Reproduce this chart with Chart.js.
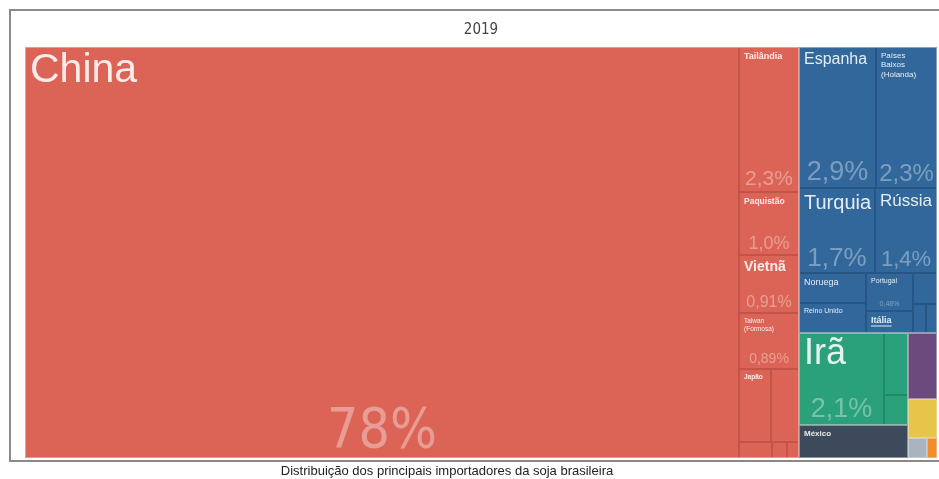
<!DOCTYPE html>
<html>
<head>
<meta charset="utf-8">
<script src="https://cdn.jsdelivr.net/npm/chart.js@4.4.1/dist/chart.umd.min.js"></script>
<style>
  html, body { margin: 0; padding: 0; background: #fff; }
  #box { width: 939px; height: 479px; position: relative; }
</style>
</head>
<body>
<div id="box"><canvas id="Chart"></canvas></div>
<script>
// participação (%) de cada país nas importações de soja brasileira, 2019
const paises = [
    'China', 'Tailândia', 'Paquistão', 'Vietnã', 'Taiwan (Formosa)', 'Japão', 'Coreia do Sul',
    'Bangladesh', 'Malásia', 'Indonésia',
    'Espanha', 'Países Baixos (Holanda)', 'Turquia', 'Rússia', 'Noruega', 'Reino Unido',
    'Portugal', 'Itália', 'Alemanha', 'França', 'Bélgica',
    'Irã', 'Arábia Saudita', 'Emirados Árabes Unidos',
    'México', 'Egito', 'Argentina', 'Austrália', 'Costa Rica'
];
const regioes = [
    'Ásia', 'Ásia', 'Ásia', 'Ásia', 'Ásia', 'Ásia', 'Ásia', 'Ásia', 'Ásia', 'Ásia',
    'Europa', 'Europa', 'Europa', 'Europa', 'Europa', 'Europa', 'Europa', 'Europa', 'Europa', 'Europa', 'Europa',
    'Oriente Médio', 'Oriente Médio', 'Oriente Médio',
    'América do Norte', 'África', 'América do Sul', 'Oceania', 'América Central'
];
const participacao = [
    78, 2.3, 1.0, 0.91, 0.89, 0.62, 0.54, 0.14, 0.06, 0.05,
    2.9, 2.3, 1.7, 1.4, 0.55, 0.53, 0.48, 0.27, 0.2, 0.1, 0.08,
    2.1, 0.4, 0.2,
    0.95, 0.5, 0.3, 0.1, 0.05
];
const titulo = '2019';
const legenda = 'Distribuição dos principais importadores da soja brasileira';

const coresRegiao = {
    'Ásia': ['#dc6457', '#c2544a'],
    'Europa': ['#31679b', '#275686'],
    'Oriente Médio': ['#2aa07b', '#208866'],
    'América do Norte': ['#3d4a5c', '#323d4d'],
    'África': ['#6b4a7e', '#5c3f6d'],
    'América do Sul': ['#e7c54b', '#d2b23f'],
    'Oceania': ['#a9b4be', '#97a2ac'],
    'América Central': ['#f28b2a', '#d97a22']
};

// tamanho das fontes dos rótulos (só os países que mostram texto)
const estiloRotulo = {
    'China': { nome: 41, pct: 55, estreita: true },
    'Tailândia': { nome: 9, negrito: true, pct: 21 },
    'Paquistão': { nome: 8.5, negrito: true, pct: 18 },
    'Vietnã': { nome: 14, negrito: true, pct: 16 },
    'Taiwan (Formosa)': { nome: 6.5, quebra: true, pct: 14 },
    'Japão': { nome: 6.5, negrito: true },
    'Espanha': { nome: 16, pct: 27 },
    'Países Baixos (Holanda)': { nome: 8, quebra: true, pct: 24 },
    'Turquia': { nome: 20, pct: 26 },
    'Rússia': { nome: 17, pct: 22 },
    'Noruega': { nome: 9 },
    'Reino Unido': { nome: 7 },
    'Portugal': { nome: 7, pct: 7 },
    'Itália': { nome: 9, negrito: true, sublinhado: true },
    'Irã': { nome: 36, pct: 27 },
    'México': { nome: 8, negrito: true }
};

const FONTE = "'Liberation Sans', Arial, sans-serif";
const FONTE_ESTREITA = "'Liberation Sans Narrow', 'DejaVu Sans Condensed', sans-serif";
const PHI = (1 + Math.sqrt(5)) / 2;

// squarified (mesma regra do d3) — grava x0,y0,x1,y1 em cada nó
function squarify(nodes, x0, y0, x1, y1) {
    let value = nodes.reduce((s, n) => s + n.value, 0);
    let i0 = 0, i1 = 0;
    const n = nodes.length;
    while (i0 < n) {
        const dx = x1 - x0, dy = y1 - y0;
        let sum = nodes[i1++].value;
        let minV = sum, maxV = sum;
        const alpha = Math.max(dy / dx, dx / dy) / (value * PHI);
        let beta = sum * sum * alpha;
        let minRatio = Math.max(maxV / beta, beta / minV);
        for (; i1 < n; ++i1) {
            const v = nodes[i1].value;
            sum += v;
            if (v < minV) minV = v;
            if (v > maxV) maxV = v;
            beta = sum * sum * alpha;
            const ratio = Math.max(maxV / beta, beta / minV);
            if (ratio > minRatio) { sum -= v; break; }
            minRatio = ratio;
        }
        const row = nodes.slice(i0, i1);
        if (dx < dy) {
            const yy = i1 < n ? y0 + dy * sum / value : y1;
            let x = x0;
            row.forEach(nd => {
                const w = dx * nd.value / sum;
                Object.assign(nd, { x0: x, x1: x + w, y0: y0, y1: yy });
                x += w;
            });
            y0 = yy;
        } else {
            const xx = i1 < n ? x0 + dx * sum / value : x1;
            let y = y0;
            row.forEach(nd => {
                const h = dy * nd.value / sum;
                Object.assign(nd, { x0: x0, x1: xx, y0: y, y1: y + h });
                y += h;
            });
            x0 = xx;
        }
        value -= sum;
        i0 = i1;
    }
}

function montarLayout(valores, grupos, x0, y0, x1, y1) {
    const porGrupo = {};
    valores.forEach((v, i) => {
        const g = grupos[i];
        if (!porGrupo[g]) porGrupo[g] = { nome: g, value: 0, filhos: [] };
        porGrupo[g].value += v;
        porGrupo[g].filhos.push({ index: i, value: v });
    });
    const lista = Object.values(porGrupo).sort((a, b) => b.value - a.value);
    squarify(lista, x0, y0, x1, y1);
    const cells = [];
    lista.forEach(g => {
        g.filhos.sort((a, b) => b.value - a.value);
        squarify(g.filhos, g.x0, g.y0, g.x1, g.y1);
        g.filhos.forEach(c => { cells[c.index] = c; });
    });
    // bordas em pixel inteiro para as linhas ficarem nítidas
    const arred = (r) => { r.x0 = Math.round(r.x0); r.x1 = Math.round(r.x1); r.y0 = Math.round(r.y0); r.y1 = Math.round(r.y1); };
    lista.forEach(arred);
    cells.forEach(arred);
    return { cells, grupos: lista };
}

function formatPct(v) {
    const casas = v >= 10 ? 0 : (v >= 1 ? 1 : 2);
    return v.toFixed(casas).replace('.', ',') + '%';
}

class TreemapController extends Chart.DatasetController {
    parse() {}

    update(mode) {
        const meta = this._cachedMeta;
        this.updateElements(meta.data, 0, meta.data.length, mode);
    }

    updateElements(rects, start, count, mode) {
        const { xScale, yScale } = this._cachedMeta;
        const ds = this.getDataset();
        const left = xScale.getPixelForValue(xScale.min);
        const right = xScale.getPixelForValue(xScale.max);
        const top = yScale.getPixelForValue(yScale.min);
        const bottom = yScale.getPixelForValue(yScale.max);
        this._layout = montarLayout(ds.data, ds.regioes, left, top, right, bottom);
        const cells = this._layout.cells;
        for (let i = start; i < start + count; i++) {
            const c = cells[i];
            Object.assign(rects[i], {
                x: (c.x0 + c.x1) / 2,
                y: c.y0,
                base: c.y1,
                width: c.x1 - c.x0,
                height: c.y1 - c.y0,
                horizontal: false,
                inflateAmount: 0,
                enableBorderRadius: false,
                borderSkipped: { top: false, right: false, bottom: false, left: false },
                options: this.resolveDataElementOptions(i, mode)
            });
        }
    }

    draw() {
        super.draw();
        const ctx = this.chart.ctx;
        const ds = this.getDataset();
        const labels = this.chart.data.labels;
        const { cells, grupos } = this._layout;

        // contorno claro entre regiões
        ctx.save();
        ctx.strokeStyle = 'rgba(255,255,255,0.45)';
        ctx.lineWidth = 1;
        grupos.forEach(g => ctx.strokeRect(g.x0 + 0.5, g.y0 + 0.5, g.x1 - g.x0 - 1, g.y1 - g.y0 - 1));
        ctx.restore();

        ctx.save();
        cells.forEach((c, i) => {
            const st = estiloRotulo[labels[i]];
            if (!st) return;
            const linhas = st.quebra ? labels[i].split(' ') : [labels[i]];
            ctx.font = (st.negrito ? 'bold ' : '') + st.nome + 'px ' + FONTE;
            ctx.fillStyle = 'rgba(255,255,255,0.88)';
            ctx.textAlign = 'left';
            ctx.textBaseline = 'top';
            const pad = st.nome > 20 ? 3 : 5;
            linhas.forEach((t, k) => {
                const ty = c.y0 + pad + k * st.nome * 1.15;
                ctx.fillText(t, c.x0 + 5, ty);
                if (st.sublinhado) {
                    const w = ctx.measureText(t).width;
                    ctx.fillRect(c.x0 + 5, ty + st.nome + 0.5, w, 1);
                }
            });
            if (st.pct) {
                ctx.font = st.pct + 'px ' + (st.estreita ? FONTE_ESTREITA : FONTE);
                ctx.fillStyle = 'rgba(255,255,255,0.36)';
                ctx.textAlign = 'center';
                ctx.textBaseline = 'alphabetic';
                ctx.fillText(formatPct(ds.data[i]), (c.x0 + c.x1) / 2, c.y1 - (4 + st.pct * 0.13));
            }
        });
        ctx.restore();
    }
}
TreemapController.id = 'treemap';
TreemapController.defaults = { datasetElementType: false, dataElementType: 'bar' };
TreemapController.overrides = {
    scales: {
        x: { type: 'linear', display: false, min: 0, max: 100 },
        y: { type: 'linear', display: false, min: 0, max: 100, reverse: true }
    }
};
Chart.register(TreemapController);

// moldura e legenda da figura
const moldura = {
    id: 'moldura',
    beforeDraw(chart) {
        const ctx = chart.ctx;
        ctx.save();
        ctx.fillStyle = '#fff';
        ctx.fillRect(0, 0, chart.width, chart.height);
        ctx.strokeStyle = '#8a8a8a';
        ctx.lineWidth = 2;
        ctx.strokeRect(10, 10, chart.width + 20, 451);
        ctx.restore();
    },
    afterDraw(chart) {
        const ctx = chart.ctx;
        ctx.save();
        ctx.font = '13px ' + FONTE;
        ctx.fillStyle = '#222';
        ctx.textAlign = 'center';
        ctx.textBaseline = 'middle';
        ctx.fillText(legenda, 447, 471);
        ctx.restore();
    }
};

const ctx = document.getElementById('Chart').getContext('2d');
const myChart = new Chart(ctx, {
    type: 'treemap',
    data: {
        labels: paises,
        datasets: [{
            data: participacao,
            regioes: regioes,
            backgroundColor: (c) => coresRegiao[regioes[c.dataIndex]][0],
            borderColor: (c) => coresRegiao[regioes[c.dataIndex]][1],
            borderWidth: 1
        }]
    },
    options: {
        responsive: true,
        maintainAspectRatio: false,
        devicePixelRatio: 1,
        animation: false,
        events: [],
        layout: { padding: { left: 25, right: 2, top: 0, bottom: 21 } },
        plugins: {
            legend: { display: false },
            tooltip: { enabled: false },
            title: {
                display: true,
                text: titulo,
                color: '#444',
                font: { family: FONTE_ESTREITA, size: 15, weight: 'normal' },
                padding: { top: 21, bottom: 8 }
            }
        }
    },
    plugins: [moldura]
});
</script>
</body>
</html>
